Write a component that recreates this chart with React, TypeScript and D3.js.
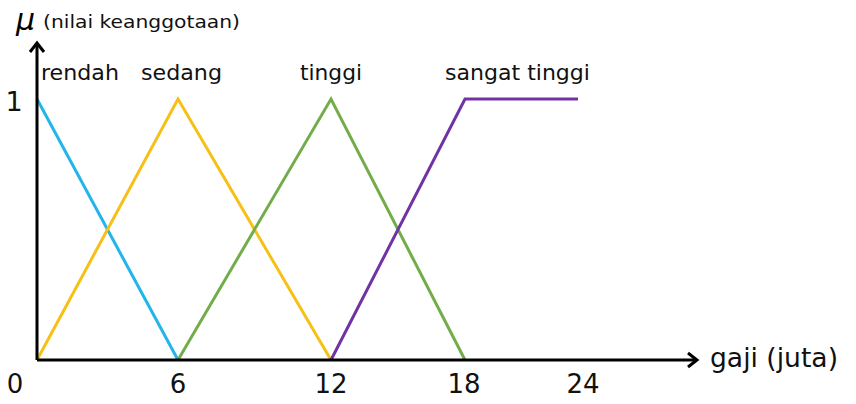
import React from "react";
import * as d3 from "d3";

const xTicks = [0, 6, 12, 18, 24];
const tickLabels = ["0", "6", "12", "18", "24"];
const rendahX = [0, 6];
const rendahY = [1, 0];
const sedangX = [0, 6, 12];
const sedangY = [0, 1, 0];
const tinggiX = [6, 12, 18];
const tinggiY = [0, 1, 0];
const sangatX = [12, 18, 24];
const sangatY = [0, 1, 1];
const setNames = ["rendah", "sedang", "tinggi", "sangat tinggi"];
const colors = ["#21b5ea", "#f6c016", "#72ad4a", "#7132a3"];

const W = 856, H = 404;

export default function App() {
  const x = d3.scaleLinear().domain(xTicks).range([37, 178, 331, 465, 578]);
  const y = d3.scaleLinear().domain([0, 1]).range([360, 99]);
  const line = d3.line<[number, number]>().x(d => x(d[0])).y(d => y(d[1]));
  const series = [
    [rendahX, rendahY],
    [sedangX, sedangY],
    [tinggiX, tinggiY],
    [sangatX, sangatY],
  ];
  const font = "'DejaVu Sans', sans-serif";
  const labelPos = [
    { x: 41, w: 78 },
    { x: 141, w: 81 },
    { x: 300, w: 62 },
    { x: 445, w: 145 },
  ];
  const tickDx = [-22, 0, 0, -1, 5];
  return (
    <svg width={W} height={H} style={{ position: "absolute", left: 0, top: 0, background: "#fff" }} fontFamily={font}>
      {series.map((s, i) => (
        <path key={i} d={line(s[0].map((v, j) => [v, s[1][j]]) as [number, number][]) || ""}
          fill="none" stroke={colors[i]} strokeWidth={3} strokeLinejoin="miter" />
      ))}
      {/* axes */}
      <line x1={x(0)} y1={y(0)} x2={x(0)} y2={44} stroke="#000" strokeWidth={3} />
      <path d={`M${x(0) - 7},${52} L${x(0)},${43} L${x(0) + 7},${52}`} fill="none" stroke="#000" strokeWidth={3} />
      <line x1={x(0)} y1={y(0)} x2={696} y2={y(0)} stroke="#000" strokeWidth={3} />
      <path d={`M${688},${y(0) - 7} L${697},${y(0)} L${688},${y(0) + 7}`} fill="none" stroke="#000" strokeWidth={3} />
      {/* labels */}
      {setNames.map((n, i) => (
        <text key={n} x={labelPos[i].x} y={80} fontSize={21} textLength={labelPos[i].w} lengthAdjust="spacingAndGlyphs" fill="#111">{n}</text>
      ))}
      <text x={16} y={30} fontSize={30} fontStyle="italic" fontFamily="'DejaVu Sans', sans-serif">μ</text>
      <text x={43} y={28} fontSize={18} textLength={197} lengthAdjust="spacingAndGlyphs" fill="#111">(nilai keanggotaan)</text>
      <text x={14} y={111} fontSize={27} fill="#111" textAnchor="middle">1</text>
      {xTicks.map((t, i) => (
        <text key={t} x={x(t) + tickDx[i]} y={393} fontSize={26} textAnchor="middle" fill="#111">{tickLabels[i]}</text>
      ))}
      <text x={710} y={367} fontSize={26} textLength={128} lengthAdjust="spacingAndGlyphs" fill="#111">gaji (juta)</text>
    </svg>
  );
}
